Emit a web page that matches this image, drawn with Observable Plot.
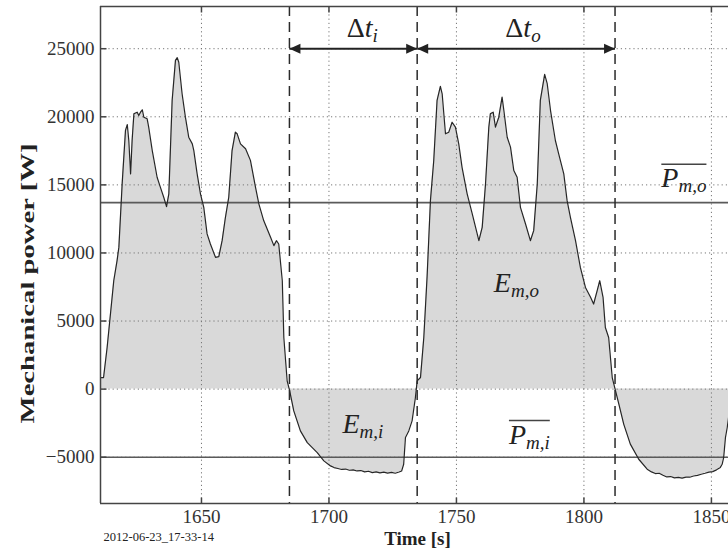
<!DOCTYPE html>
<html>
<head>
<meta charset="utf-8">
<script src="https://cdn.jsdelivr.net/npm/d3@7"></script>
<script src="https://cdn.jsdelivr.net/npm/@observablehq/plot@0.6"></script>
<style>
  html, body { margin: 0; padding: 0; background: #fff; overflow: hidden; }
  #chart svg { display: block; }
  #chart svg text { font-family: 'Liberation Serif', 'Times New Roman', serif; }
</style>
</head>
<body>
<div id="chart"></div>
<script>
// ---- data ----
const time = [
  1610.4, 1611.6, 1613.0, 1615.6, 1616.9, 1617.6, 1618.9, 1620.2, 1620.9, 1621.5,
  1622.2, 1622.8, 1623.5, 1624.8, 1625.4, 1626.1, 1626.8, 1627.4, 1628.7, 1629.3,
  1630.7, 1632.6, 1633.9, 1635.2, 1636.3, 1637.2, 1638.5, 1639.8, 1640.5, 1641.1,
  1642.4, 1643.7, 1645.0, 1646.4, 1647.0, 1648.3, 1649.6, 1650.9, 1652.2, 1653.5,
  1655.5, 1656.8, 1658.1, 1659.4, 1660.7, 1662.0, 1663.3, 1664.0, 1665.3, 1667.3,
  1669.2, 1671.2, 1672.5, 1674.4, 1677.1, 1678.4, 1679.4, 1680.3, 1681.7, 1682.3,
  1683.6, 1684.6, 1686.2, 1688.8, 1691.5, 1695.4, 1698.0, 1700.6, 1702.0, 1703.5,
  1705.0, 1706.5, 1708.0, 1709.5, 1711.0, 1712.5, 1714.0, 1715.5, 1717.0, 1718.5,
  1720.0, 1721.5, 1723.0, 1724.5, 1726.0, 1727.5, 1728.5, 1729.3, 1730.0, 1731.3,
  1732.6, 1733.9, 1734.6, 1735.9, 1737.2, 1738.5, 1739.8, 1741.1, 1742.4, 1743.7,
  1744.4, 1745.7, 1747.0, 1748.3, 1749.6, 1750.9, 1752.2, 1754.2, 1756.2, 1758.8,
  1760.1, 1761.4, 1762.7, 1763.3, 1764.4, 1765.3, 1766.6, 1767.9, 1768.6, 1769.9,
  1771.2, 1772.5, 1773.8, 1775.1, 1777.1, 1779.0, 1780.3, 1781.7, 1782.9, 1784.6,
  1785.6, 1786.9, 1788.8, 1790.1, 1792.1, 1793.4, 1794.7, 1796.7, 1798.6, 1800.6,
  1802.6, 1803.8, 1805.2, 1806.2, 1807.5, 1808.4, 1809.7, 1811.1, 1812.4, 1813.7,
  1815.6, 1818.2, 1821.5, 1824.8, 1826.5, 1828.0, 1829.5, 1831.0, 1832.5, 1834.0,
  1835.5, 1837.0, 1838.5, 1840.0, 1841.5, 1843.0, 1844.5, 1846.0, 1847.5, 1849.0,
  1850.5, 1852.0, 1853.5, 1854.2, 1854.8, 1855.5, 1856.2, 1856.7
];
const power = [
  850, 850, 3060, 7960, 9440, 10410, 15090, 19000, 19430, 18260,
  15810, 18260, 20220, 20340, 20100, 20340, 20510, 19970, 19850, 19240,
  17520, 15560, 14820, 14090, 13400, 14340, 21200, 24140, 24340, 24010,
  21690, 19970, 18500, 18010, 17520, 15810, 14340, 13350, 11400, 10660,
  9680, 9730, 10900, 12620, 14090, 17520, 18870, 18750, 18010, 17650,
  16800, 14820, 13600, 12380, 11150, 10540, 10900, 10660, 7960, 3790,
  610, -125, -1600, -3070, -3930, -4660, -5270, -5640, -5760, -5830,
  -5900, -5870, -5960, -5930, -6010, -5980, -6080, -6030, -6130, -6080,
  -6150, -6100, -6170, -6120, -6180, -6090, -6010, -5520, -3560, -3070,
  -2330, -620, 610, 850, 3790, 8300, 13840, 16790, 21200, 22230,
  21690, 18750, 18870, 19600, 19240, 18010, 16290, 14340, 12870, 10900,
  11880, 15070, 19240, 20220, 20340, 19240, 19970, 21440, 20460, 18500,
  17770, 16050, 15560, 13350, 12130, 10900, 11640, 15070, 21200, 23110,
  22430, 20460, 18260, 17280, 15810, 13840, 12620, 10900, 8940, 7470,
  6740, 6250, 7230, 7960, 6740, 4530, 3790, 850, -125, -1100,
  -2570, -4040, -5150, -5880, -6080, -6200, -6180, -6330, -6450, -6420,
  -6520, -6480, -6540, -6460, -6470, -6380, -6330, -6250, -6180, -6100,
  -6060, -5930, -5750, -5520, -5030, -3560, -2820, -2100
];
const xTicks = [1650, 1700, 1750, 1800, 1850];
const yTicks = [-5000, 0, 5000, 10000, 15000, 20000, 25000];
const xDomain = [1610.4, 1856.7];
const yDomain = [-8400, 28100];
const boundaries = [1684.5, 1734.6, 1812.2];          // dashed vertical lines
const meanLevels = [13700, -5000];                    // mean power lines
const intervals = [ {from: 1684.5, to: 1734.6}, {from: 1734.6, to: 1812.2} ];
const arrowLevel = 25000;
const mathLabels = [
  {x: 1713.1, y: 25830, base: "Δt", sub: "i", bar: false},
  {x: 1776.1, y: 25830, base: "Δt", sub: "o", bar: false},
  {x: 1839.2, y: 14824, base: "P", sub: "m,o", bar: true},
  {x: 1778.6, y: -4000, base: "P", sub: "m,i", bar: true},
  {x: 1773.5, y: 7103, base: "E", sub: "m,o", bar: false},
  {x: 1713.3, y: -3213, base: "E", sub: "m,i", bar: false}
];
const yLabel = "Mechanical power [W]";
const xLabel = "Time [s]";
const caption = "2012-06-23_17-33-14";

const data = time.map((t, i) => ({t, p: power[i]}));
const fmt = d => (d < 0 ? "\u2212" + Math.abs(d) : String(d));

// custom symbols (pixel-space shapes)
const headRight = {draw(c) { c.moveTo(0, 0); c.lineTo(-11, -5); c.lineTo(-11, 5); c.closePath(); }};
const headLeft  = {draw(c) { c.moveTo(0, 0); c.lineTo(11, -5); c.lineTo(11, 5); c.closePath(); }};
const tickUp    = {draw(c) { c.moveTo(0, 0); c.lineTo(0, -6); }};
const tickDown  = {draw(c) { c.moveTo(0, 0); c.lineTo(0, 6); }};
const tickRight = {draw(c) { c.moveTo(0, 0); c.lineTo(6, 0); }};

const serif = "'Liberation Serif', 'Times New Roman', serif";

const chart = Plot.plot({
  width: 728,
  height: 552,
  marginTop: 6,
  marginBottom: 49,
  marginLeft: 100,
  marginRight: 0,
  style: {fontFamily: serif, fontSize: "19px", background: "#fff", color: "#333"},
  x: {domain: xDomain, label: null},
  y: {domain: yDomain, label: null},
  marks: [
    Plot.areaY(data, {x: "t", y: "p", fill: "#d9d9d9", curve: "linear"}),
    Plot.gridX(xTicks, {stroke: "#777", strokeOpacity: 1, strokeWidth: 1, strokeDasharray: "1.2,3"}),
    Plot.gridY(yTicks, {stroke: "#777", strokeOpacity: 1, strokeWidth: 1, strokeDasharray: "1.2,3"}),
    Plot.ruleY(meanLevels, {stroke: "#5a5a5a", strokeWidth: 1.6}),
    Plot.lineY(data, {x: "t", y: "p", stroke: "#262626", strokeWidth: 1.2}),
    Plot.ruleX(boundaries, {stroke: "#2a2a2a", strokeWidth: 1.5, strokeDasharray: "10,6"}),
    Plot.link(intervals, {x1: "from", x2: "to", y1: () => arrowLevel, y2: () => arrowLevel, stroke: "#222", strokeWidth: 2}),
    Plot.dot(intervals, {x: "from", y: () => arrowLevel, symbol: headLeft, fill: "#222", stroke: "none"}),
    Plot.dot(intervals, {x: "to", y: () => arrowLevel, symbol: headRight, fill: "#222", stroke: "none"}),
    // frame (left, top, bottom; right side is cropped)
    Plot.ruleX([xDomain[0]], {stroke: "#444", strokeWidth: 1.5}),
    Plot.ruleY(yDomain, {stroke: "#444", strokeWidth: 1.5}),
    // inner tick marks
    Plot.dot(xTicks, {x: d => d, frameAnchor: "bottom", symbol: tickUp, stroke: "#444", fill: "none"}),
    Plot.dot(xTicks, {x: d => d, frameAnchor: "top", symbol: tickDown, stroke: "#444", fill: "none"}),
    Plot.dot(yTicks, {y: d => d, frameAnchor: "left", symbol: tickRight, stroke: "#444", fill: "none"}),
    Plot.axisX(xTicks, {tickSize: 0, tickPadding: 6, tickFormat: fmt, fontSize: 19, fontFamily: serif, fill: "#333", label: null}),
    Plot.axisY(yTicks, {tickSize: 0, tickPadding: 6, tickFormat: fmt, fontSize: 19, fontFamily: serif, fill: "#333", label: null}),
    // math annotations
    Plot.text(mathLabels, {x: "x", y: "y", text: d => d.base + "_" + d.sub, textAnchor: "middle", lineAnchor: "bottom",
      fontSize: 28, fontFamily: serif, fill: "#222", className: "math"}),
    // axis titles & caption
    Plot.text([yLabel], {frameAnchor: "left", rotate: -90, dx: -73, dy: 28.5, fontWeight: "bold", fontSize: 19,
      fontFamily: serif, fill: "#222", lineAnchor: "middle", textAnchor: "middle", className: "ylab"}),
    Plot.text([xLabel], {frameAnchor: "bottom", dx: 3, dy: 35, fontWeight: "bold", fontSize: 19, fontFamily: serif,
      fill: "#222", lineAnchor: "middle"}),
    Plot.text([caption], {frameAnchor: "bottom-left", dx: 3, dy: 33, fontSize: 12.5, fontFamily: serif, fill: "#222",
      textAnchor: "start", lineAnchor: "middle"})
  ]
});

document.getElementById("chart").append(chart);

// rich math typesetting: italic letters, subscripts, overline bars
const NS = "http://www.w3.org/2000/svg";
chart.querySelectorAll("g.math text").forEach((el, i) => {
  const [base, sub] = el.textContent.split("_");
  el.textContent = "";
  for (const ch of base) {
    const ts = document.createElementNS(NS, "tspan");
    ts.textContent = ch;
    ts.setAttribute("font-style", ch === "Δ" ? "normal" : "italic");
    el.append(ts);
  }
  const s = document.createElementNS(NS, "tspan");
  s.textContent = sub;
  s.setAttribute("font-style", "italic");
  s.setAttribute("font-size", "19px");
  s.setAttribute("dy", "5");
  el.append(s);
  const lab = mathLabels[i];
  if (lab && lab.bar) {
    const bb = el.getBBox();
    const line = document.createElementNS(NS, "line");
    line.setAttribute("x1", bb.x + 1);
    line.setAttribute("x2", bb.x + bb.width);
    line.setAttribute("y1", bb.y + 2);
    line.setAttribute("y2", bb.y + 2);
    line.setAttribute("stroke", "#444");
    line.setAttribute("stroke-width", "1.5");
    const tr = el.getAttribute("transform");
    if (tr) line.setAttribute("transform", tr);
    el.parentNode.append(line);
  }
});
// stretch the y label along its direction to match the reference length
chart.querySelectorAll("g.ylab text").forEach(el => {
  const natural = el.getComputedTextLength();
  const k = 280 / natural;
  const tr = el.getAttribute("transform") || "";
  el.setAttribute("transform", tr + ` scale(${k.toFixed(3)},1)`);
});
</script>
</body>
</html>
